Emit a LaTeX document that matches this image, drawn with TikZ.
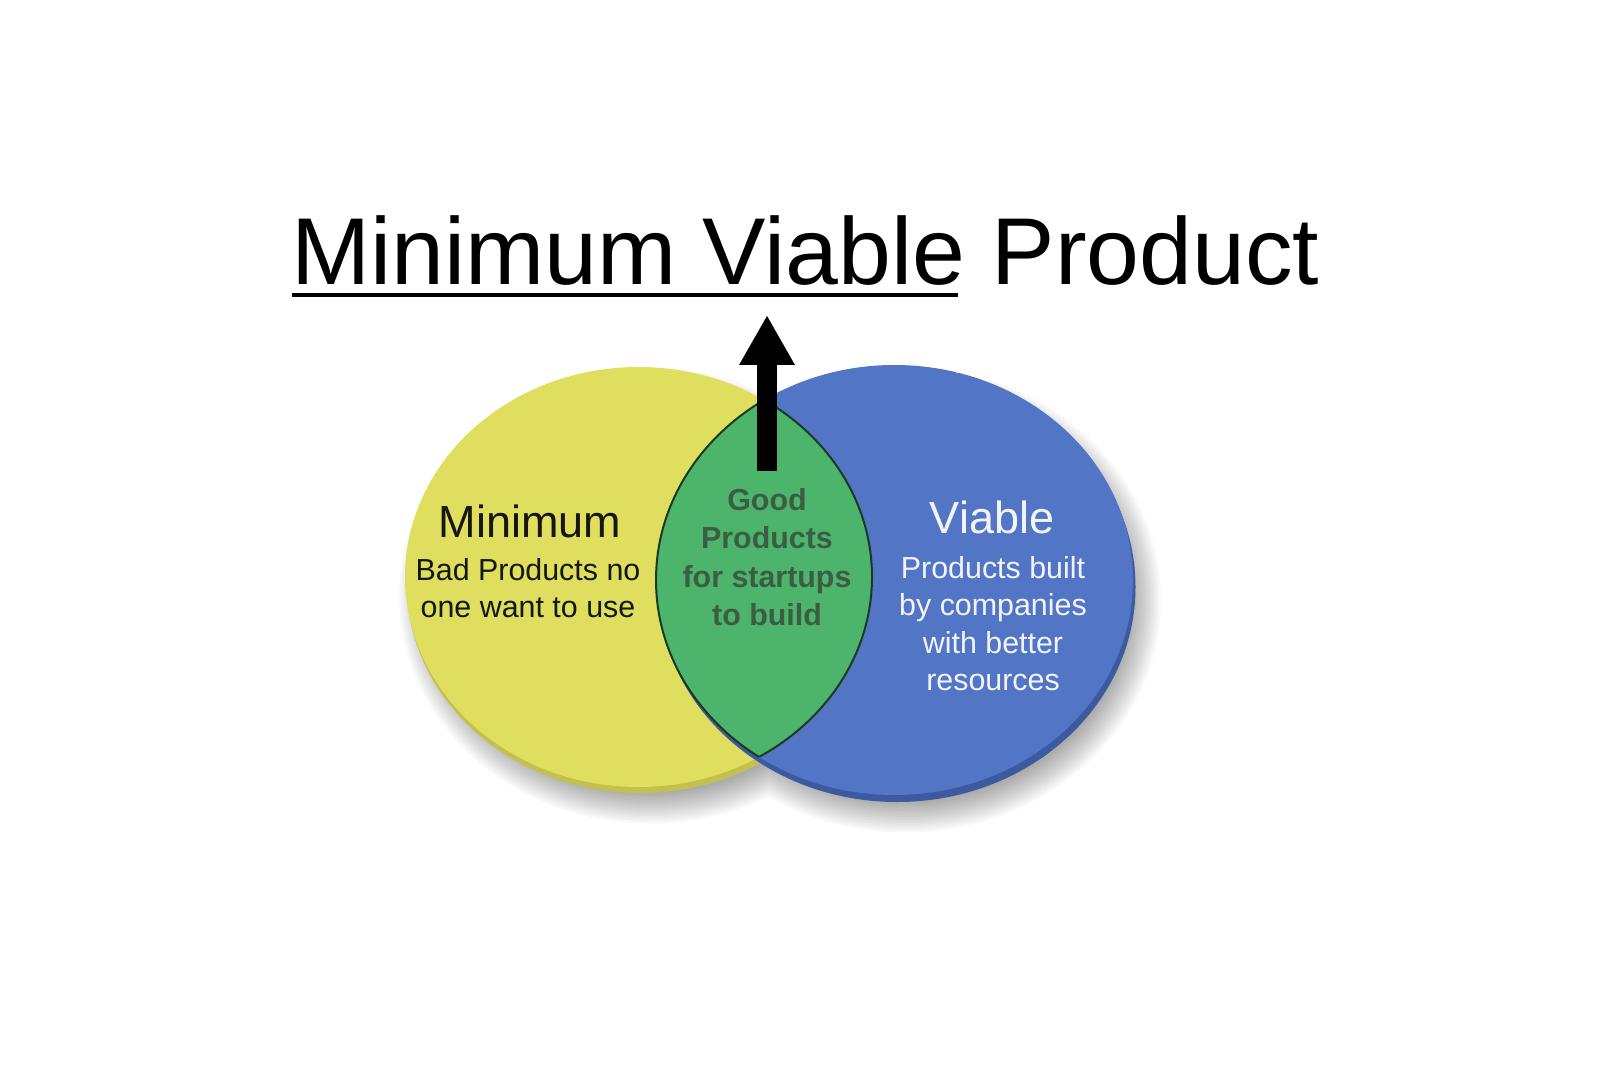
\documentclass[tikz,border=0pt]{standalone}
\usepackage{fontspec}
\setmainfont{Liberation Sans}
\usetikzlibrary{arrows.meta}
\definecolor{yface}{RGB}{223,222,95}
\definecolor{yrim}{RGB}{196,192,78}
\definecolor{bface}{RGB}{82,118,197}
\definecolor{brim}{RGB}{60,90,160}
\definecolor{gface}{RGB}{77,181,107}
\definecolor{lensline}{RGB}{28,58,34}
\definecolor{gtext}{RGB}{60,92,68}
\definecolor{btext}{RGB}{242,244,252}
\definecolor{ytext}{RGB}{22,22,12}
\tikzset{
  headtext/.style={inner sep=0pt, anchor=base, font=\fontsize{22.5pt}{27pt}\selectfont},
  subtext/.style={inner sep=0pt, anchor=base, font=\fontsize{15.2pt}{18.5pt}\selectfont},
  goodtext/.style={inner sep=0pt, anchor=base, text=gtext, font=\fontsize{15.2pt}{18.5pt}\selectfont\bfseries},
}
\begin{document}
\begin{tikzpicture}[x=0.5pt,y=-0.5pt]
\useasboundingbox[fill=white] (0,0) rectangle (1600,1069);
% soft shadow (union of both disks per ring)
\foreach \k in {-5,...,7}{
  \pgfmathsetmacro{\ya}{116.75+1.25*\k}
  \pgfmathsetmacro{\yb}{105+1.25*\k}
  \pgfmathsetmacro{\ba}{119.25+1.25*\k}
  \pgfmathsetmacro{\bb}{107.5+1.25*\k}
  \fill[black, opacity=0.028]
    (650,596) ellipse [x radius=\ya pt, y radius=\yb pt]
    (905,600) ellipse [x radius=\ba pt, y radius=\bb pt];
}
% yellow disk
\fill[yrim] (640,583) ellipse [x radius=116.75pt, y radius=105pt];
\fill[yface] (638.5,577) ellipse [x radius=116.75pt, y radius=105pt];
% blue disk
\fill[brim] (897,587) ellipse [x radius=119.25pt, y radius=107.5pt];
\fill[bface] (894.5,580) ellipse [x radius=119.25pt, y radius=107.5pt];
\draw[white, opacity=0.75, line width=0.8pt] (894.5,580) ++(-75:238.5 and 215) arc[start angle=-75, end angle=5, x radius=119.25pt, y radius=107.5pt];
% lens
\begin{scope}
  \clip (638.5,577) ellipse [x radius=116.75pt, y radius=105pt];
  \fill[gface] (894.5,580) ellipse [x radius=119.25pt, y radius=107.5pt];
  \draw[lensline, line width=1pt] (894.5,580) ellipse [x radius=119.25pt, y radius=107.5pt];
\end{scope}
\begin{scope}
  \clip (894.5,580) ellipse [x radius=119.25pt, y radius=107.5pt];
  \draw[lensline, line width=1pt] (638.5,577) ellipse [x radius=116.75pt, y radius=105pt];
\end{scope}
% title
\node[inner sep=0pt, anchor=base west, font=\fontsize{47.5pt}{57pt}\selectfont] (title) at (291,285) {Minimum Viable Product};
\coordinate (ulstart) at (292,295);
\coordinate (ulend) at (958,295);
\draw[black, line width=2pt] (ulstart) -- (ulend);
% arrow
\coordinate (arrowbase) at (767,471);
\coordinate (arrowtip) at (767,315);
\draw[black, line width=10pt, -{Triangle[length=25pt, width=26pt]}] (arrowbase) -- (arrowtip);
% yellow texts
\node[headtext, text=ytext] (minhead) at (530,537) {Minimum};
\node[subtext, text=ytext] (min1) at (528,580) {Bad Products no};
\node[subtext, text=ytext] (min2) at (528,617) {one want to use};
% green texts
\node[goodtext] (good1) at (767,510) {Good};
\node[goodtext] (good2) at (767,548) {Products};
\node[goodtext] (good3) at (767,587) {for startups};
\node[goodtext] (good4) at (767,625) {to build};
% blue texts
\node[headtext, text=btext] (viahead) at (992,533) {Viable};
\node[subtext, text=btext] (via1) at (993,578) {Products built};
\node[subtext, text=btext] (via2) at (993,615) {by companies};
\node[subtext, text=btext] (via3) at (993,653) {with better};
\node[subtext, text=btext] (via4) at (993,690) {resources};
\end{tikzpicture}
\end{document}
